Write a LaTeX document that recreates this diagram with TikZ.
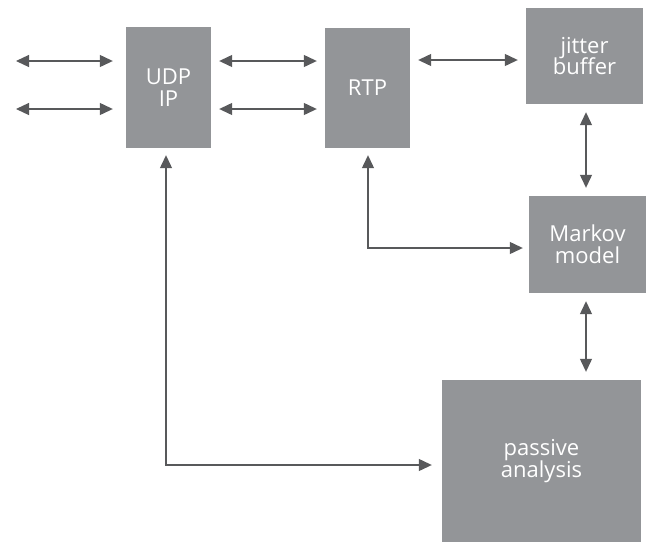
\documentclass[tikz,border=0pt]{standalone}
\usepackage{fontspec}
\setmainfont{Open Sans}
\usepackage{xcolor}
\usepackage{tikz}
\usetikzlibrary{arrows.meta}
\definecolor{blockgray}{HTML}{939598}
\definecolor{arrowgray}{HTML}{58595B}
\tikzstyle{node:block}=[rectangle,fill=blockgray,text=white,inner sep=0pt,align=center,font=\fontsize{22}{26}\selectfont]
\tikzstyle{draw:both}=[{Triangle[length=13pt,width=12pt]}-{Triangle[length=13pt,width=12pt]}, draw=arrowgray, line width=1.2pt, shorten <=8pt, shorten >=8pt]

\begin{document}
\begin{tikzpicture}[x=1pt,y=-1pt]
        \useasboundingbox (0,0) rectangle (651,542);

        % Protocol stack
        \node[node:block,minimum width=85pt,minimum height=121pt] (UDP) at (168.5,87.5) {UDP\\[-0.2em]IP};
        \node[node:block,minimum width=85pt,minimum height=120pt] (RTP) at (367.5,88) {RTP};

        % Receiver side
        \node[node:block,minimum width=117pt,minimum height=96pt] (Jitter) at (584.5,56) {jitter\\[-0.2em]buffer};
        \node[node:block,minimum width=117pt,minimum height=97pt] (Markov) at (587.5,244.5) {Markov\\[-0.2em]model};
        \node[node:block,minimum width=199pt,minimum height=162pt] (Passive) at (541.5,461) {passive\\[-0.2em]analysis};

        % Free ends on the left
        \coordinate (In-1) at (8,61);
        \coordinate (In-2) at (8,109);
        \coordinate (Bend-1) at (368,248);
        \coordinate (Bend-2) at (166,465);

        % Links into UDP/IP
        \foreach \i in {1,2} {
                \draw[draw:both,shorten >=13pt] (In-\i) -- (In-\i -| UDP.west);
            }

        % Links between UDP/IP and RTP
        \foreach \i in {1,2} {
                \draw[draw:both] (UDP.east |- In-\i) -- (RTP.west |- In-\i);
            }

        % Links on the receiver side
        \draw[draw:both] (RTP.east |- 0,60) -- (Jitter.west |- 0,60);
        \draw[draw:both] (Jitter.south -| 586,0) -- (Markov.north -| 586,0);
        \draw[draw:both] (Markov.south -| 586,0) -- (Passive.north -| 586,0);

        % Feedback paths
        \draw[draw:both,shorten >=6pt,shorten <=7pt] (Bend-1 |- RTP.south) -- (Bend-1) -- (Markov.west |- Bend-1);
        \draw[draw:both,shorten >=10pt,shorten <=7pt] (Bend-2 |- UDP.south) -- (Bend-2) -- (Passive.west |- Bend-2);

    \end{tikzpicture}
\end{document}
